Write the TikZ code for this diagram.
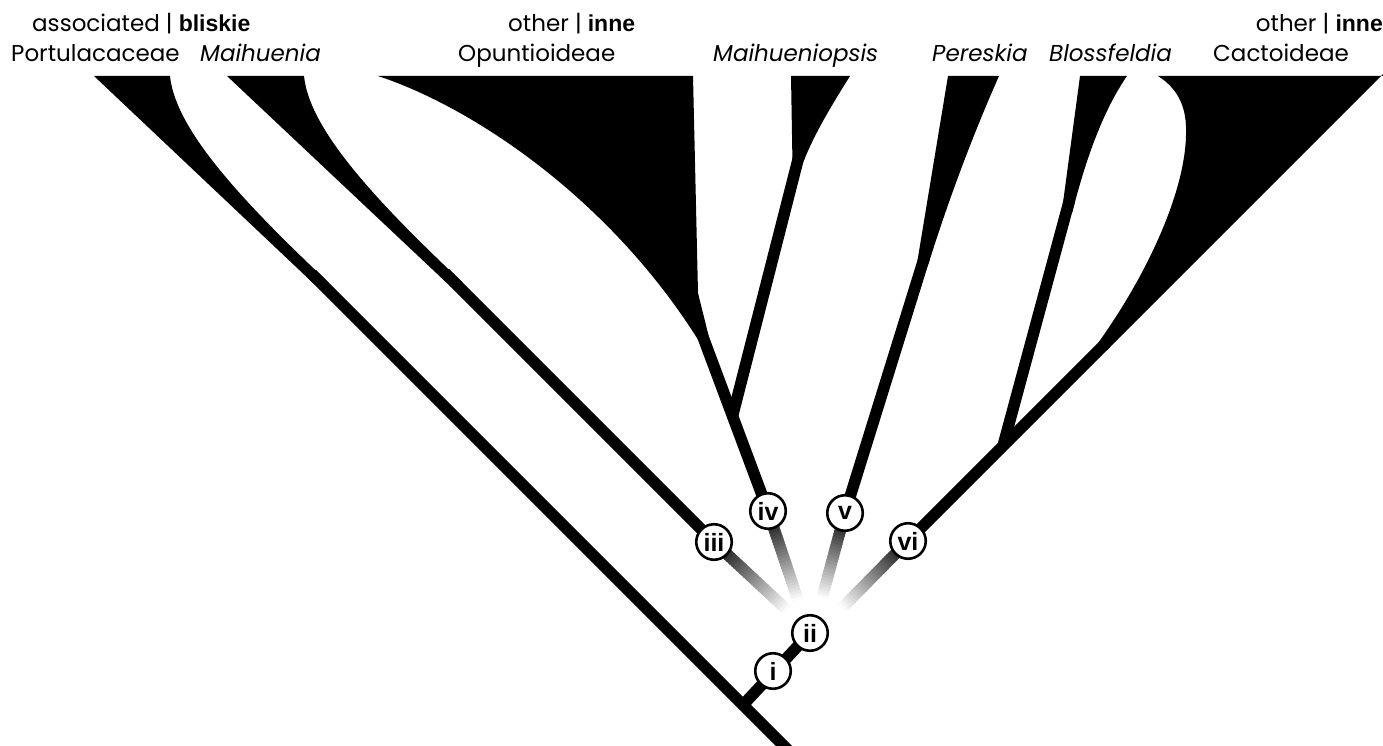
\documentclass[tikz,border=0pt]{standalone}
\usepackage{fontspec}
\setmainfont{Poppins}
\newfontfamily\arialfont{Liberation Sans}
\usetikzlibrary{calc}
\begin{document}
\begin{tikzpicture}[x=1pt,y=-1pt,
  branch/.style={line width=11.5pt, black},
  wedge/.style={fill=black},
  clade/.style={circle, draw=black, line width=2.6pt, fill=white, minimum size=35.5pt, inner sep=0pt,
    font=\arialfont\bfseries\fontsize{25}{25}\selectfont},
  taxon/.style={anchor=base west, inner sep=0pt, font=\fontsize{23}{28}\selectfont},
  taxonr/.style={taxon, anchor=base east},
]
\clip (0,0) rectangle (1383,746);
\fill[white] (0,0) rectangle (1383,746);

% ---------- key coordinates ----------
\coordinate (root) at (788,750);
\coordinate (j0) at (743,705);
\coordinate (c1) at (773,671);
\coordinate (c2) at (810,633);
\coordinate (c3) at (714,542);
\coordinate (c4) at (768,511);
\coordinate (c5) at (845,513);
\coordinate (c6) at (908,541);
\coordinate (f3) at (787,610);
\coordinate (f4) at (798,600);
\coordinate (f5) at (822,598);
\coordinate (f6) at (842,608);
\coordinate (j4) at (732.5,416);
\coordinate (j6) at (1003,446);
\coordinate (portTip) at (312,274);
\coordinate (maiTip) at (445,273);
\coordinate (opuTip) at (700,329);
\coordinate (mpsTip) at (798.7,157);
\coordinate (perTip) at (924.2,258);
\coordinate (bloTip) at (1069.5,200);
\coordinate (cacTip) at (1106,343);

% ---------- clade wedges ----------
% Portulacaceae
\fill[wedge] (94,76) -- (170,76) .. controls (175,125) and (230,190) .. (328,282)
  -- (340,302) -- (313,283) -- cycle;
% Maihuenia
\fill[wedge] (227,76) -- (304,76) .. controls (309,125) and (364,190) .. (462,282)
  -- (474,302) -- (446,282.2) -- cycle;
% Opuntioideae
\fill[wedge] (378,76) -- (693,76) -- (698,293) -- (708.4,335) -- (710,355.7) -- (697.6,339)
  .. controls (610,200) and (475,108) .. (378,76) -- cycle;
% Maihueniopsis
\fill[wedge] (791,76) -- (850,76) .. controls (835,100) and (815,132) .. (803.6,161.4)
  -- (794.3,174.5) -- (792.4,158.6) -- cycle;
% Pereskia
\fill[wedge] (948,76) -- (999,76) .. controls (975,130) and (950,195) .. (928.5,263.7)
  -- (918.5,276.3) -- (917.5,260.3) -- cycle;
% Blossfeldia
\fill[wedge] (1080,76) -- (1127,76) .. controls (1100,115) and (1083,170) .. (1072.5,211.5)
  -- (1064,222) -- (1062.9,203.5) -- cycle;
% Cactoideae
\fill[wedge] (1158,76) -- (1390,76) -- (1390,67.1) -- (1107.1,350.1) -- (1093,356) -- (1098.9,341.9)
  .. controls (1150,270) and (1185,190) .. (1186,135)
  .. controls (1187,110) and (1180,90) .. (1158,76) -- cycle;

% ---------- branches ----------
\draw[branch] (root) -- (portTip);
\draw[branch] (j0) -- (c2);
\draw[branch] (c3) -- (maiTip);
\draw[branch] (c4) -- (opuTip);
\draw[branch] (j4) -- (mpsTip);
\draw[branch] (c5) -- (perTip);
\draw[branch] (c6) -- (cacTip);
\draw[branch] (j6) -- (bloTip);

% ---------- fading branches ----------
\foreach \s/\e in {f3/c3, f4/c4, f5/c5, f6/c6} {
  \foreach \k in {0,...,29} {
    \pgfmathsetmacro\ta{\k/30}
    \pgfmathsetmacro\tb{(\k+1.4)/30}
    \pgfmathsetmacro\sv{100*(\k+0.5)/30}
    \draw[line width=11.5pt, black!\sv] ($(\s)!\ta!(\e)$) -- ($(\s)!\tb!(\e)$);
  }
}

% ---------- clade markers ----------
\node[clade] (ni) at (c1) {i};
\node[clade] (nii) at (c2) {ii};
\node[clade] (niii) at (c3) {iii};
\node[clade] (niv) at (c4) {iv};
\node[clade] (nv) at (c5) {v};
\node[clade] (nvi) at (c6) {vi};

% ---------- labels ----------
\node[taxon] (h1) at (32,32) {associated | {\arialfont\bfseries bliskie}};
\node[taxon] (h2) at (508,32) {other | {\arialfont\bfseries inne}};
\node[taxonr] (h3) at (1383,32) {other | {\arialfont\bfseries inne}};
\node[taxon] (t1) at (11,62) {Portulacaceae};
\node[taxon] (t2) at (200,62) {\itshape Maihuenia};
\node[taxon] (t3) at (458,62) {Opuntioideae};
\node[taxon] (t4) at (713,62) {\itshape Maihueniopsis};
\node[taxon] (t5) at (932,62) {\itshape Pereskia};
\node[taxon] (t6) at (1049,62) {\itshape Blossfeldia};
\node[taxon] (t7) at (1213,62) {Cactoideae};
\end{tikzpicture}
\end{document}
